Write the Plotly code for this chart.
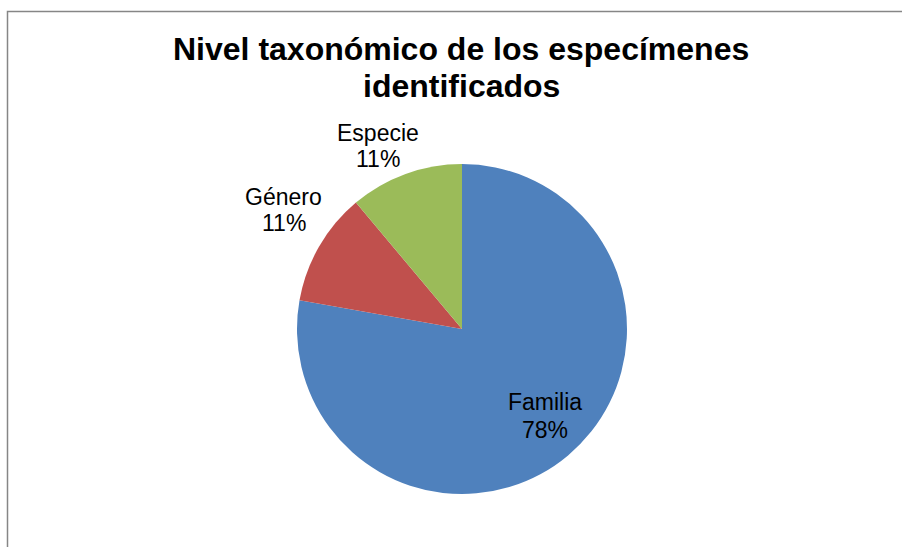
import plotly.graph_objects as go

# Taxonomic level reached for the identified specimens
categories = ["Familia", "Género", "Especie"]
counts = [7, 1, 1]
colors = ["#4F81BD", "#C0504D", "#9BBB59"]

title_lines = ["Nivel taxonómico de los especímenes", "identificados"]

W, H = 902, 547
FONT = "Liberation Sans, Arial, sans-serif"


def px(x):
    return x / W


def py(y):
    return 1 - y / H


fig = go.Figure(
    go.Pie(
        labels=categories,
        values=counts,
        marker=dict(colors=colors, line=dict(width=0)),
        sort=False,
        direction="clockwise",
        rotation=0,
        textinfo="none",
        hoverinfo="label+percent",
        domain=dict(x=[px(297), px(627)], y=[py(494), py(164)]),
        showlegend=False,
    )
)

# Data labels: category name above its share of the total
total = sum(counts)
label_pos = {
    "Familia": (544.5, 401.5, 429.5),
    "Género": (283.5, 196.5, 222.5),
    "Especie": (377.5, 132.5, 159.0),
}
annotations = []
for cat, val in zip(categories, counts):
    x, y_name, y_pct = label_pos[cat]
    pct = f"{round(val / total * 100)}%"
    for txt, yy in ((cat, y_name), (pct, y_pct)):
        annotations.append(
            dict(
                text=txt, x=px(x), y=py(yy), xref="paper", yref="paper",
                xanchor="center", yanchor="middle", showarrow=False,
                font=dict(family=FONT, size=23, color="#000000"),
            )
        )

for line, yy in zip(title_lines, (49.5, 86.0)):
    annotations.append(
        dict(
            text=f"<b>{line}</b>", x=px(461.5), y=py(yy), xref="paper", yref="paper",
            xanchor="center", yanchor="middle", showarrow=False,
            font=dict(family=FONT, size=32, color="#000000"),
        )
    )

fig.update_layout(
    width=W,
    height=H,
    margin=dict(l=0, r=0, t=0, b=0),
    paper_bgcolor="#FFFFFF",
    plot_bgcolor="#FFFFFF",
    annotations=annotations,
    shapes=[
        dict(
            type="rect", xref="paper", yref="paper",
            x0=px(7.5), x1=1.05, y0=-0.05, y1=py(11.5),
            line=dict(color="#868686", width=1.5), fillcolor="rgba(0,0,0,0)",
            layer="below",
        )
    ],
)

fig.write_html("out.html")
